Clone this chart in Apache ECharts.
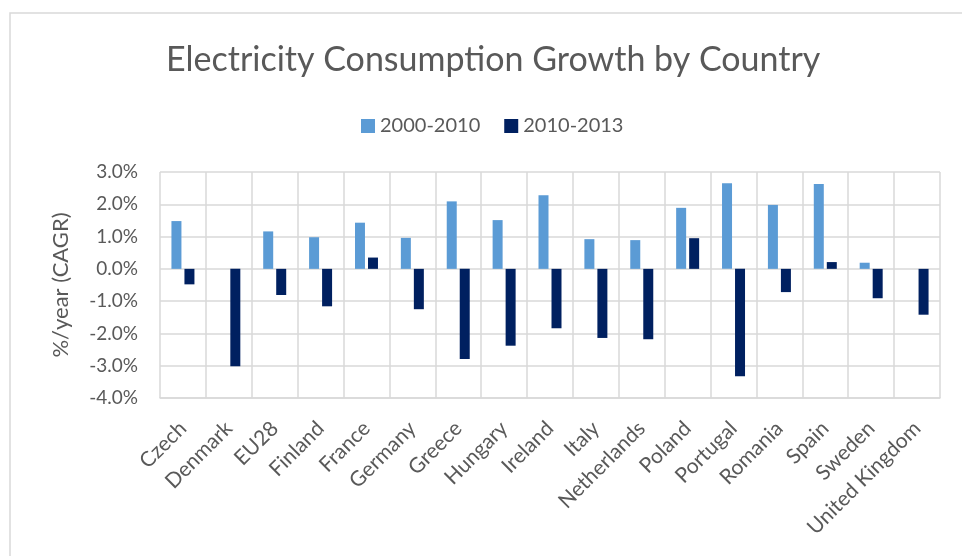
<!DOCTYPE html>
<html>
<head>
<meta charset="utf-8">
<script src="https://cdn.jsdelivr.net/npm/echarts@6/dist/echarts.min.js"></script>
<style>
  html, body { margin: 0; padding: 0; background: #fff; }
  #chart { width: 962px; height: 556px; }
</style>
</head>
<body>
<div id="chart"></div>
<script>
var countries = ['Czech', 'Denmark', 'EU28', 'Finland', 'France', 'Germany', 'Greece', 'Hungary',
  'Ireland', 'Italy', 'Netherlands', 'Poland', 'Portugal', 'Romania', 'Spain', 'Sweden', 'United Kingdom'];
var growth2000to2010 = [1.48, 0.0, 1.16, 0.98, 1.43, 0.96, 2.09, 1.51, 2.28, 0.92, 0.89, 1.89, 2.65, 1.98, 2.63, 0.19, 0.0];
var growth2010to2013 = [-0.48, -3.02, -0.81, -1.16, 0.35, -1.25, -2.79, -2.38, -1.84, -2.14, -2.18, 0.95, -3.33, -0.72, 0.21, -0.91, -1.42];
var yTicks = [-4, -3, -2, -1, 0, 1, 2, 3];

var textColor = '#595959';
var gridColor = '#d9d9d9';
var font = 'Lato, "Open Sans", sans-serif';

var myChart = echarts.init(document.getElementById('chart'));

var option = {
    backgroundColor: '#fff',
    title: {
        text: 'Electricity Consumption Growth by Country',
        left: 161,
        top: 38,
        textStyle: {
            color: textColor,
            fontFamily: font,
            fontWeight: 'normal',
            fontSize: 34
        }
    },
    legend: {
        top: 111,
        left: 356,
        itemWidth: 14,
        itemHeight: 14,
        itemGap: 24,
        icon: 'rect',
        textStyle: {
            color: textColor,
            fontFamily: font,
            fontSize: 20
        },
        data: ['2000-2010', '2010-2013']
    },
    grid: {
        left: 160,
        right: 22,
        top: 172,
        bottom: 158
    },
    xAxis: {
        type: 'category',
        data: countries,
        axisLine: { onZero: false, show: true, lineStyle: { color: gridColor, width: 1.5 } },
        axisTick: { show: false },
        splitLine: { show: true, lineStyle: { color: gridColor, width: 1.5 } },
        axisLabel: {
            rotate: 45,
            interval: 0,
            margin: 27,
            color: textColor,
            fontFamily: font,
            fontSize: 21
        }
    },
    yAxis: {
        type: 'value',
        min: yTicks[0],
        max: yTicks[yTicks.length - 1],
        interval: 1,
        name: '%/year (CAGR)',
        nameLocation: 'middle',
        nameGap: 88,
        nameTextStyle: {
            color: textColor,
            fontFamily: font,
            fontSize: 22
        },
        axisLine: { show: false },
        axisTick: { show: false },
        splitLine: { lineStyle: { color: gridColor, width: 1.5 } },
        axisLabel: {
            margin: 22,
            color: textColor,
            fontFamily: font,
            fontSize: 19,
            formatter: function (v) { return v.toFixed(1) + '%'; }
        }
    },
    series: [{
        name: '2000-2010',
        type: 'bar',
        data: growth2000to2010,
        barWidth: 10,
        barGap: '30%',
        itemStyle: { color: '#5b9bd5' }
    }, {
        name: '2010-2013',
        type: 'bar',
        data: growth2010to2013,
        barWidth: 10,
        itemStyle: { color: '#002060' }
    }],
    graphic: [{
        type: 'rect',
        shape: { x: 10, y: 13, width: 1000, height: 600 },
        style: { fill: 'none', stroke: gridColor, lineWidth: 1.5 },
        silent: true
    }]
};

myChart.setOption(option);
</script>
</body>
</html>
